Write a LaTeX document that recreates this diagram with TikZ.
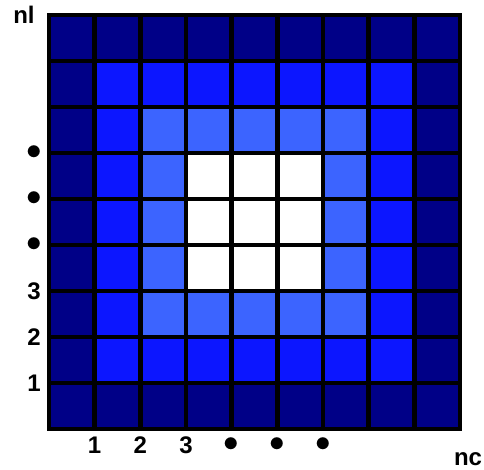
\documentclass[tikz,border=0pt]{standalone}
\usepackage{fontspec}
\setmainfont{Liberation Sans}
\usetikzlibrary{positioning}
\definecolor{ringnavy}{RGB}{0,0,135}
\definecolor{ringblue}{RGB}{12,22,255}
\definecolor{ringlight}{RGB}{60,100,255}
\newcommand{\bigdot}{\scalebox{1.25}{$\bullet$}}

\begin{document}
\begin{tikzpicture}[x=45.67pt, y=46pt,
  lbl/.style={font=\fontsize{24}{24}\selectfont\bfseries, inner sep=0pt},
  gridline/.style={line width=4.5pt, black, line cap=rect}]
  \useasboundingbox (-49pt,-40pt) rectangle (435pt,429pt);

  % rings of cells
  \foreach \i in {0,...,8}{
    \foreach \j in {0,...,8}{
      \pgfmathtruncatemacro{\r}{min(\i,\j,8-\i,8-\j)}
      \ifcase\r \def\c{ringnavy}\or \def\c{ringblue}\or \def\c{ringlight}\else \def\c{white}\fi
      \fill[\c] (\i,\j) rectangle ++(1,1);
    }
  }
  % grid lines
  \foreach \k in {0,...,9}{
    \draw[gridline] (\k,0) -- (\k,9);
    \draw[gridline] (0,\k) -- (9,\k);
  }

  % axis labels
  \node[lbl] (nl) at (-25pt,9) {nl};
  \node[lbl] (nc) at (419pt,-30pt) {nc};
  \foreach \k/\t in {1/1,2/2,3/3,4/\bigdot,5/\bigdot,6/\bigdot}{
    \node[lbl] (row\k) at (-15pt,\k) {\t};
    \node[lbl] (col\k) at (\k,-16pt) {\t};
  }
\end{tikzpicture}
\end{document}
